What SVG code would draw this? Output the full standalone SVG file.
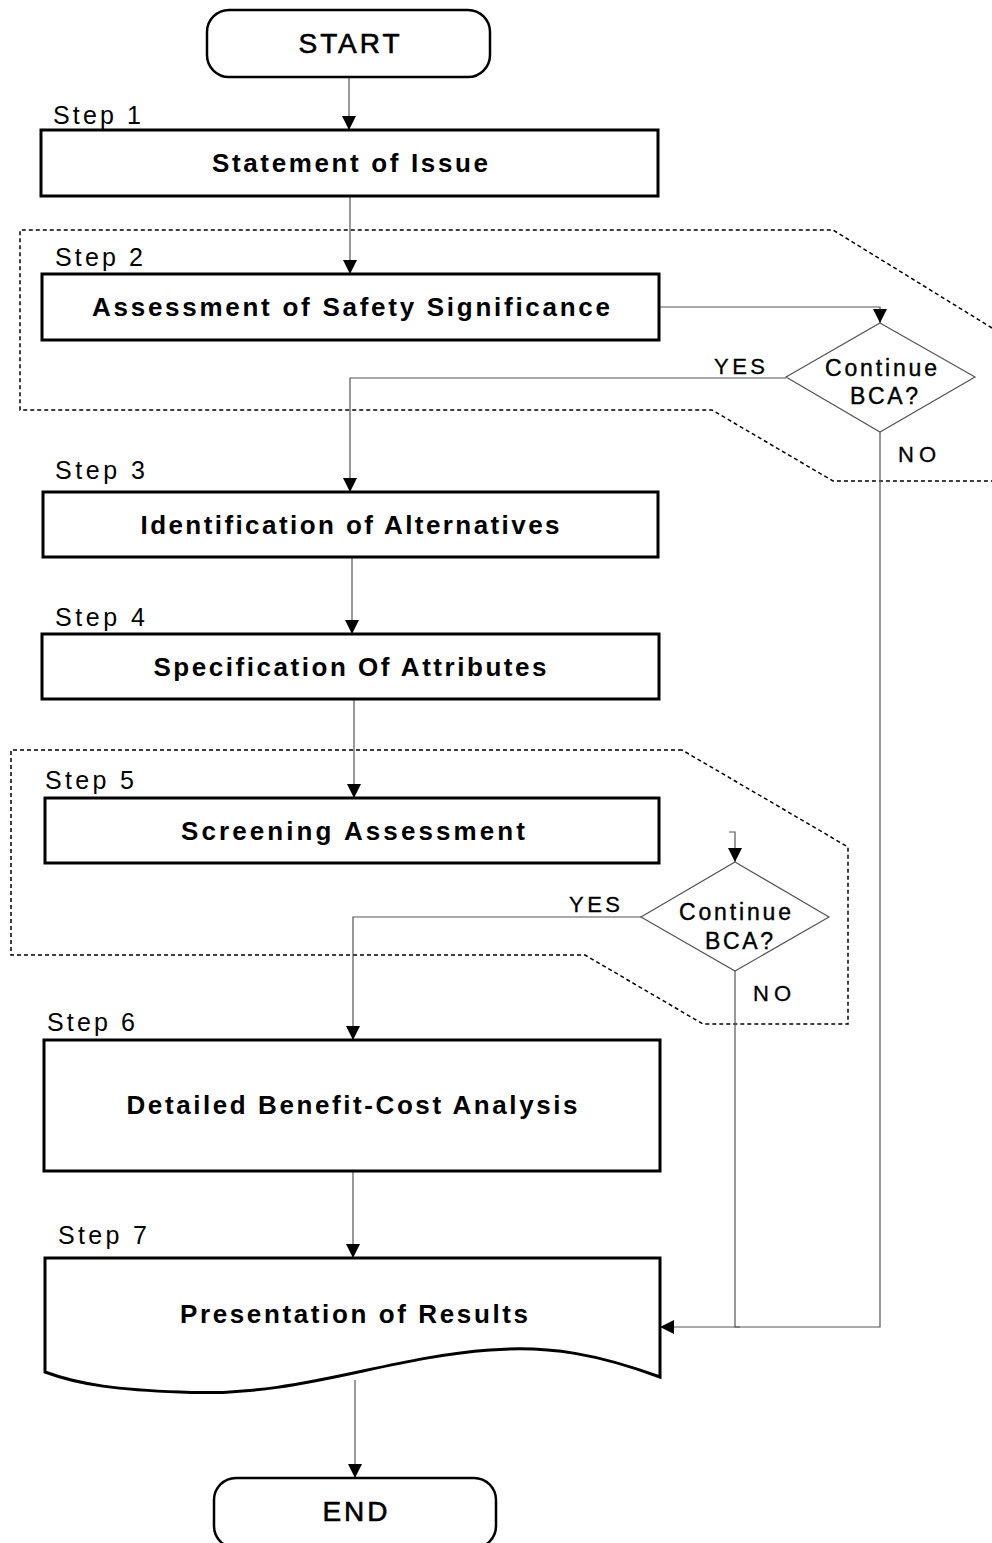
<svg xmlns="http://www.w3.org/2000/svg" width="992" height="1543" viewBox="0 0 992 1543">
<defs>
<marker id="ah" viewBox="0 0 10 10" refX="10" refY="5" markerWidth="14" markerHeight="14" markerUnits="userSpaceOnUse" orient="auto">
<path d="M0,0 L10,5 L0,10 z" fill="#000"/>
</marker>
<style>
.box{fill:#fff;stroke:#000;stroke-width:3}
.term{fill:#fff;stroke:#000;stroke-width:2.5}
.dia{fill:#fff;stroke:#555;stroke-width:1.2}
.zone{fill:none;stroke:#000;stroke-width:1.5;stroke-dasharray:4,3}
.con{fill:none;stroke:#555;stroke-width:1.2}
.t{font-family:"Liberation Sans",Arial,sans-serif;font-weight:bold;font-size:26px;text-anchor:middle;fill:#000}
.tm{font-family:"Liberation Sans",Arial,sans-serif;font-size:28px;text-anchor:middle;fill:#000;stroke:#000;stroke-width:0.6}
.st{font-family:"Liberation Sans",Arial,sans-serif;font-size:25px;fill:#000}
.d{font-family:"Liberation Sans",Arial,sans-serif;font-size:23px;text-anchor:middle;fill:#000;stroke:#000;stroke-width:0.4}
.lb{font-family:"Liberation Sans",Arial,sans-serif;font-size:22px;fill:#000;stroke:#000;stroke-width:0.3}
</style>
</defs>
<rect width="992" height="1543" fill="#fff"/>

<g id="zones">
<path class="zone" d="M992,328 L833,230 L20,230 L20,410 L712,410 L833,481 L992,481"/>
<path class="zone" d="M682,750 L11,750 L11,955 L585,955 L703,1024 L848,1024 L848,847 Z"/>
</g>

<g id="connectors">
<line class="con" x1="349" y1="77" x2="349" y2="130" marker-end="url(#ah)"/>
<line class="con" x1="350" y1="196" x2="350" y2="274" marker-end="url(#ah)"/>
<polyline class="con" points="659,307 880,307 880,323" marker-end="url(#ah)"/>
<polyline class="con" points="786,378 350,378 350,492" marker-end="url(#ah)"/>
<polyline class="con" points="880,432 880,1327 660,1327" marker-end="url(#ah)"/>
<line class="con" x1="352" y1="557" x2="352" y2="634" marker-end="url(#ah)"/>
<line class="con" x1="354" y1="699" x2="354" y2="798" marker-end="url(#ah)"/>
<polyline class="con" points="729,832 735,832 735,862" marker-end="url(#ah)"/>
<polyline class="con" points="641,917 353,917 353,1040" marker-end="url(#ah)"/>
<polyline class="con" points="735,971 735,1327 740,1327"/>
<line class="con" x1="353" y1="1171" x2="353" y2="1258" marker-end="url(#ah)"/>
<line class="con" x1="355" y1="1380" x2="355" y2="1478" marker-end="url(#ah)"/>
</g>

<g id="start">
<rect class="term" x="207" y="10" width="283" height="67" rx="22"/>
<text class="tm" x="349" y="53" textLength="101" lengthAdjust="spacing">START</text>
</g>

<g id="step1">
<text class="st" x="53" y="124" textLength="88" lengthAdjust="spacing">Step 1</text>
<rect class="box" x="41" y="130" width="617" height="66"/>
<text class="t" x="350" y="172" textLength="276" lengthAdjust="spacing">Statement of Issue</text>
</g>

<g id="step2">
<text class="st" x="55" y="266" textLength="88" lengthAdjust="spacing">Step 2</text>
<rect class="box" x="42" y="274" width="617" height="66"/>
<text class="t" x="351" y="316" textLength="518" lengthAdjust="spacing">Assessment of Safety Significance</text>
</g>

<g id="decision1">
<polygon class="dia" points="880,323 975,377 880,432 786,377"/>
<text class="d" x="881" y="376" textLength="112" lengthAdjust="spacing">Continue</text>
<text class="d" x="884" y="404" textLength="68" lengthAdjust="spacing">BCA?</text>
<text class="lb" x="714" y="374" textLength="51" lengthAdjust="spacing">YES</text>
<text class="lb" x="898" y="462" textLength="38" lengthAdjust="spacing">NO</text>
</g>

<g id="step3">
<text class="st" x="55" y="479" textLength="90" lengthAdjust="spacing">Step 3</text>
<rect class="box" x="43" y="492" width="615" height="65"/>
<text class="t" x="350" y="534" textLength="419" lengthAdjust="spacing">Identification of Alternatives</text>
</g>

<g id="step4">
<text class="st" x="55" y="626" textLength="90" lengthAdjust="spacing">Step 4</text>
<rect class="box" x="42" y="634" width="617" height="65"/>
<text class="t" x="350" y="676" textLength="393" lengthAdjust="spacing">Specification Of Attributes</text>
</g>

<g id="step5">
<text class="st" x="45" y="789" textLength="89" lengthAdjust="spacing">Step 5</text>
<rect class="box" x="45" y="798" width="614" height="65"/>
<text class="t" x="353" y="840" textLength="344" lengthAdjust="spacing">Screening Assessment</text>
</g>

<g id="decision2">
<polygon class="dia" points="735,862 829,917 735,971 641,917"/>
<text class="d" x="735" y="920" textLength="112" lengthAdjust="spacing">Continue</text>
<text class="d" x="739" y="949" textLength="68" lengthAdjust="spacing">BCA?</text>
<text class="lb" x="569" y="912" textLength="51" lengthAdjust="spacing">YES</text>
<text class="lb" x="753" y="1001" textLength="38" lengthAdjust="spacing">NO</text>
</g>

<g id="step6">
<text class="st" x="47" y="1031" textLength="88" lengthAdjust="spacing">Step 6</text>
<rect class="box" x="44" y="1040" width="616" height="131"/>
<text class="t" x="352" y="1114" textLength="451" lengthAdjust="spacing">Detailed Benefit-Cost Analysis</text>
</g>

<g id="step7">
<text class="st" x="58" y="1244" textLength="89" lengthAdjust="spacing">Step 7</text>
<path class="box" d="M45,1258 L660,1258 L660,1377 C600,1355 550,1345 490,1350 C380,1358 300,1398 180,1392 C120,1390 80,1385 45,1372 Z"/>
<text class="t" x="354" y="1323" textLength="348" lengthAdjust="spacing">Presentation of Results</text>
</g>

<g id="end">
<rect class="term" x="214" y="1478" width="282" height="70" rx="22"/>
<text class="tm" x="355" y="1521" textLength="65" lengthAdjust="spacing">END</text>
</g>
</svg>
